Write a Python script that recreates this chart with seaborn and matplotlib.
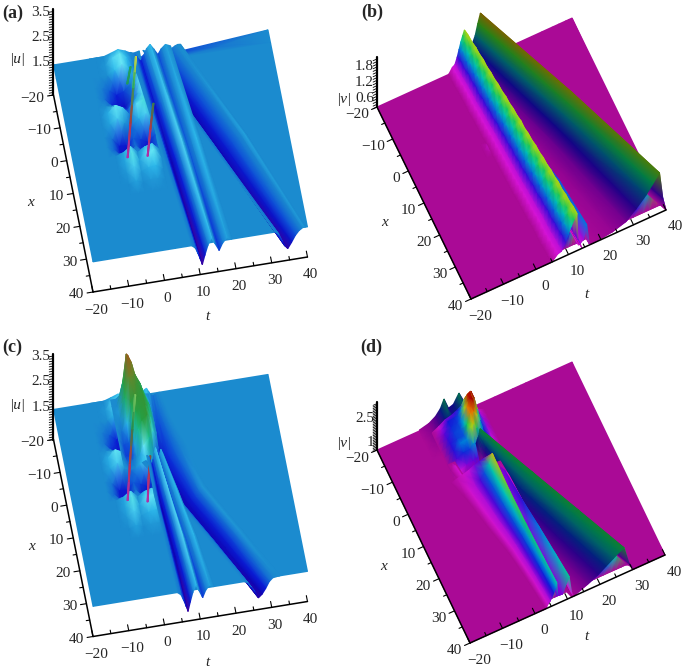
import numpy as np
import seaborn as sns
import matplotlib
matplotlib.use("Agg")
import matplotlib.pyplot as plt

sns.set_theme(style="white")
plt.rcParams["font.family"] = ["Liberation Serif", "DejaVu Serif"]

B = 1.41  # flat level of |u|

TICKS = [-20, -10, 0, 10, 20, 30, 40]

# colour scales, evenly spaced over each z range
U_COLORS = ["#46009a", "#0f05b4", "#0a1ed7", "#0f5ad7", "#1b8acf", "#2db9eb", "#6eebfa", "#14cdaf",
            "#1eaf64", "#23a046", "#329637", "#508c32", "#64872d", "#787d28", "#8c6e1e", "#a05519", "#af3c14"]
V_BRIGHT = ["#aa0a96", "#d714d7", "#6e00d7", "#1414d7", "#0078dc", "#00c3be", "#14c85a", "#aad714",
            "#e6aa00", "#e13c00", "#aa0000"]
V_DARK = ["#aa0a96", "#820091", "#50008c", "#140087", "#00287d", "#005f69", "#007d46", "#288214",
          "#647805", "#825a00", "#783200"]
SPIKE_COLORS = ["#b02cb0", "#c03060", "#a04030", "#208c50", "#20c080", "#e8e040"]

# panel a / c : flat sheet with notches at the back edge
BASE_T = [-20, 1, 3, 4.5, 6, 8, 10, 12, 40]
BASE_X = [-20, -16, 40]
BASE_A = [[B, B, 1.3, 1.15, 1.3, 1.2, 0.8, 1.1, B],
          [B, B, B, B, B, B, B, B, B],
          [B, B, B, B, B, B, B, B, B]]

# breather field around the origin, shared by a and c
BR_T = [-10, -8, -6, -4, -2, 0, 2, 4]
BR_X = [-20, -17, -14, -11, -8, -5, -2, 1, 4, 7, 10, 13, 16, 19, 22]
BR_Z = [[B, B, B, 1.5, 1.6, 1.5, 1.35, B],
        [B, B, 1.45, 1.7, 1.82, 1.6, 1.30, B],
        [B, B, 1.42, 1.6, 1.8, 1.55, 1.35, B],
        [B, 1.36, 1.22, 1.0, 1.1, 1.35, 1.7, 1.55],
        [B, 1.32, 1.05, 0.92, 0.88, 1.2, 1.82, 1.6],
        [B, 1.42, 1.4, 1.2, 1.15, 1.5, 1.7, 1.45],
        [B, 1.55, 1.82, 1.68, 1.35, 1.75, 1.88, 1.5],
        [B, 1.5, 1.68, 1.45, 1.25, 1.55, 1.7, 1.4],
        [B, 1.3, 0.98, 0.95, 1.2, 1.1, 0.95, 1.2],
        [B, 1.26, 0.92, 0.88, 1.3, 0.92, 0.88, 1.2],
        [B, B, 1.5, 1.7, 1.42, 1.6, 1.68, 1.4],
        [B, B, 1.52, 1.84, 1.5, 1.75, 1.82, 1.45],
        [B, B, 1.46, 1.68, 1.45, 1.55, 1.6, B],
        [B, B, B, 1.5, B, 1.46, 1.46, B],
        [B, B, B, B, B, B, B, B]]

# panel a ridges
A_R2_X = [-20, 10, 40]
A_R2_C = [4.5, 7.6, 10.6]
R2_OFF = [-3, -2, -1.2, -0.5, 0, 0.7, 1.5, 2.5, 3.5, 4.7, 5.6, 6.8, 8.2]
A_R2_Z = [[B, 1.35, 1.2, 1.05, 1.0, 1.2, 1.45, 1.6, 1.4, 1.15, 1.35, 1.5, B],
          [B, 1.3, 1.05, 0.85, 0.8, 1.0, 1.3, 1.7, 1.45, 1.2, 1.35, 1.6, B],
          [B, 1.3, 1.05, 0.8, 0.6, 0.95, 1.3, 1.6, 1.35, 1.05, 1.3, 1.5, B]]
A_R3_X = [-20, 10, 40]
A_R3_C = [8.5, 21.5, 34.5]
A_R3_WR = [1, 1, 0.7]
R3_OFF = [-3.5, -2.5, -1.5, -0.8, 0, 1.5, 3, 4.5, 5.5, 6.2, 7]
A_R3_Z = [[B, 1.35, 1.05, 0.9, 0.82, 0.95, 1.15, 1.3, 1.38, 1.42, B],
          [B, 1.3, 1.05, 0.9, 0.82, 0.95, 1.15, 1.3, 1.38, 1.5, B],
          [B, 1.3, 1.0, 0.8, 0.68, 0.9, 1.15, 1.32, 1.38, 1.45, B]]
A_S1_X = [7.9, 3, -2, -6.6]
A_S1_T = [-4.4, -2.7, -1, 0.6]
A_S1_Z = [1.0, 1.7, 2.4, 3.0]
A_S2_X = [8.4, 5, 2]
A_S2_T = [1.1, 2.5, 3.9]
A_S2_Z = [1.0, 1.6, 2.2]
A_G_X = [-11, -6.8]
A_G_T = [-0.1, -1.8]
A_G_Z = [2.05, 1.95]

# panel c
C_R3_X = [-20, -12, -3, 10, 25, 40]
C_R3_C = [6, 5.2, 4.3, 10.9, 18.6, 26.3]
C_R3_WL = [1.2, 1, 1.2, 1, 1, 1]
C_R3_WR = [0.6, 1, 1.6, 1, 1, 1]
C_R3_OFF = [-4, -3, -2, -1, -0.5, 0, 1, 2, 3, 4, 5, 6]
C_R3_Z = [[B, B, B, 1.45, 1.6, 1.65, 1.5, 1.35, 1.3, 1.35, 1.38, B],
          [B, B, 1.4, 1.5, 1.6, 1.55, 1.3, 1.15, 1.15, 1.25, 1.35, B],
          [B, B, 1.3, 1.1, 0.9, 0.72, 0.8, 0.9, 1.05, 1.2, 1.35, B],
          [B, 1.35, 1.2, 1.0, 0.88, 0.8, 0.85, 0.95, 1.1, 1.28, 1.45, B],
          [B, 1.35, 1.2, 1.0, 0.88, 0.8, 0.85, 0.95, 1.1, 1.28, 1.45, B],
          [B, 1.35, 1.15, 0.95, 0.8, 0.68, 0.8, 1.0, 1.25, 1.38, 1.4, B]]
C_FAN_X = [-2, 10, 25, 40]
C_FAN_C = [4.3, 4.8, 5.7, 6.6]
C_FAN_WL = [0.5, 0.7, 0.85, 1]
C_FAN_WR = [0.35, 0.55, 0.75, 0.87]
C_FAN_Z = [[B, 1.35, 1.2, 1.05, 1.0, 1.2, 1.45, 1.65, 1.4, 1.15, 1.35, 1.55, B],
           [B, 1.3, 1.05, 0.85, 0.8, 1.0, 1.3, 1.7, 1.45, 1.2, 1.35, 1.6, B],
           [B, 1.3, 1.05, 0.85, 0.8, 1.0, 1.3, 1.7, 1.45, 1.2, 1.35, 1.6, B],
           [B, 1.3, 1.05, 0.8, 0.6, 0.95, 1.3, 1.6, 1.35, 1.05, 1.3, 1.5, B]]
C_M_T = [-4, -2.5, -1, 0, 1, 2, 3.5, 5, 6.5]
C_M_X = [-20, -18, -16, -14, -11, -8, -5, -2, 1]
C_M_Z = [[B, B, 1.5, 2.1, 2.1, 2.0, 1.6, 1.45, B],
         [B, B, 2.3, 3.4, 3.0, 2.5, 2.2, 1.6, B],
         [B, 1.45, 2.5, 3.6, 3.3, 2.8, 2.4, 1.7, B],
         [B, 1.4, 2.2, 3.0, 3.0, 2.7, 2.5, 2.0, B],
         [B, 1.3, 1.6, 2.4, 2.7, 2.6, 2.6, 2.2, B],
         [B, 1.15, 1.2, 2.1, 2.4, 2.5, 2.6, 2.1, B],
         [B, 1.1, 1.1, 1.5, 2.1, 2.4, 2.6, 1.9, 1.2],
         [B, 1.25, 1.3, 1.4, 1.5, 1.8, 2.1, 1.35, 1.0],
         [1.45, 1.35, 1.4, 1.5, 1.6, 1.65, 1.45, B, B]]
C_S1_X = [7.4, 1, -4.5, -10]
C_S1_T = [-4.3, -2.5, -0.8, 1]
C_S1_Z = [1.0, 1.6, 2.2, 2.8]
C_S2_X = [8.4, 5, 2]
C_S2_T = [1.1, 2, 3]
C_S2_Z = [0.95, 1.4, 1.9]

# panel b
V0 = 0.3
B_EDGE_T = [-20, 4.8, 6.6, 7.8, 9, 9.9, 10.8, 11.7, 12.6, 12.9, 13.6, 15.6, 16.6, 17.3, 23.5, 27.6, 30.8, 33.9, 35.9, 38, 39, 40]
B_EDGE_Z = [V0, V0, 0.5, 0.55, 0.75, 0.95, 1.15, 1.4, 1.67, 0.6, 0.48, 1.1, 0.35, V0, 0.4, 0.55, 0.85, 1.2, 1.5, 1.8, 0.8, V0]
B_R1_X = [-20, -18, -16, -14, -12, -10, -8, -6, -4, -2, 0, 2, 4, 6, 8, 10, 12, 14, 16, 18, 20, 22, 24, 26, 28, 30, 32, 34, 36, 38, 40]
B_R1_C = [6.9, 7.1, 7.3, 7.5, 7.7, 7.9, 8.0, 8.2, 8.4, 8.6, 8.8, 9.0, 9.2, 9.4, 9.6, 9.8, 9.9, 10.1, 10.3, 10.5, 10.7, 10.9, 11.1, 11.3, 11.5, 11.7, 11.8, 12.0, 12.2, 12.4, 12.6]
B_R1_WL = [3.7, 3.8, 3.9, 3.9, 4.0, 4.1, 4.2, 4.2, 4.3, 4.4, 4.5, 4.5, 4.6, 4.7, 4.8, 4.9, 4.9, 5.0, 5.1, 5.2, 5.2, 5.3, 5.4, 5.5, 5.5, 5.6, 5.7, 5.8, 5.8, 5.9, 6.0]
B_R1_OFF = [-1.3, -1, -0.8, -0.6, -0.45, -0.3, -0.15, 0, 0.3, 1, 1.6]
B_R1_HI = [V0, 0.5, 0.55, 0.85, 1.2, 1.5, 1.66, 1.72, 0.7, 0.5, V0]
B_R1_LO = [V0, 0.5, 0.55, 0.8, 1.05, 1.3, 1.5, 1.69, 0.7, 0.5, V0]
B_BUMP_X = [8, 25, 40]
B_BUMP_C = [12.5, 14.3, 15.6]
B_BUMP_OFF = [-2.5, -1, 0, 0.8, 1.4]
B_BUMP_Z = [[0.5, 0.5, 0.7, 0.4, V0],
            [0.5, 0.6, 1.05, 0.4, V0],
            [0.48, 0.6, 1.1, 0.35, V0]]
B_R2_X = [-20, 10, 40]
B_R2_C = [11.8, 25.3, 38]
B_R2_WL = [8, 14, 20.7]
R_OFF = [-1, -0.7, -0.5, -0.35, -0.2, -0.1, 0, 1, 2]
B_R2_Z = [[V0, 0.42, 0.62, 0.95, 1.3, 1.7, 2.05, 0.9, V0],
          [V0, 0.42, 0.6, 0.92, 1.28, 1.62, 1.95, 0.85, V0],
          [V0, 0.4, 0.55, 0.85, 1.2, 1.5, 1.8, 0.8, V0]]
B_SPOT_T = [1.5, 3.4, 5.3]
B_SPOT_X = [1.8, 3.8, 5.8]
B_SPOT_Z = [[V0, V0, V0], [V0, 0.52, V0], [V0, V0, V0]]

# panel d
W0 = 0.5
D_EDGE_T = [-20, 3.3, 3.9, 4.6, 5.2, 5.7, 6.3, 6.7, 7, 8.4, 10.5, 11.3, 12, 16.1, 19.4, 21.8, 24.2, 25.8, 27.4, 28.9, 30.4, 40]
D_EDGE_Z = [W0, W0, 0.72, 0.85, 1.05, 1.25, 1.55, 1.8, 1.0, 0.95, 1.85, 0.75, W0, 0.85, 1.15, 1.45, 1.75, 1.95, 2.1, 1.0, W0, W0]
D_R2_X = [-7, -4, 10, 25, 40]
D_R2_C = [5.5, 6.9, 13.4, 20.4, 27.4]
D_R2_WL = [1.2, 2.5, 11, 14, 16.1]
D_R2_WR = [1, 1, 1.2, 1.4, 1.5]
D_R2_Z = [[1.3, 1.5, 1.6, 1.7, 1.85, 2.0, 2.1, 1.0, W0],
          [W0, 0.85, 1.15, 1.45, 1.75, 1.95, 2.1, 1.0, W0],
          [W0, 0.85, 1.15, 1.45, 1.75, 1.95, 2.1, 1.0, W0],
          [W0, 0.85, 1.15, 1.45, 1.75, 1.95, 2.1, 1.0, W0],
          [W0, 0.85, 1.15, 1.45, 1.75, 1.95, 2.1, 1.0, W0]]
D_R1_X = [-3, 2, 12, 22, 32, 40]
D_R1_C = [4.5, 5, 5.4, 5.8, 6.3, 6.7]
D_R1_WL = [8, 7, 5.6, 4, 3.2, 2.8]
D_R1_OFF = [-1.2, -1, -0.75, -0.55, -0.35, -0.15, 0, 0.3, 1.7, 3.8, 4.6, 5.3]
D_R1_Z = [[W0, 0.6, 0.7, 0.8, 0.95, 1.05, 1.1, 0.7, W0, W0, W0, W0],
          [W0, 0.72, 0.85, 1.1, 1.4, 1.8, 2.4, 1.1, 0.9, 1.0, 0.75, W0],
          [W0, 0.72, 0.85, 1.1, 1.4, 1.75, 2.1, 1.1, 0.9, 1.2, 0.8, W0],
          [W0, 0.72, 0.85, 1.1, 1.35, 1.6, 1.95, 1.0, 0.95, 1.5, 0.8, W0],
          [W0, 0.72, 0.85, 1.05, 1.3, 1.55, 1.85, 1.0, 0.95, 1.7, 0.8, W0],
          [W0, 0.72, 0.85, 1.05, 1.25, 1.5, 1.8, 1.0, 0.95, 1.85, 0.75, W0]]
D_AB_T = [-7, -4, -2, -0.5, 0.6, 2, 3.5, 5.2, 7]
D_AB_X = [-20, -17, -14, -11, -8]
D_AB_Z = [[0.55, 0.7, 0.95, 1.3, 1.8, 1.1, 1.2, 1.75, 1.0],
          [W0, 0.68, 0.95, 1.25, 1.45, 1.25, 1.3, 1.5, 1.1],
          [W0, 0.6, 0.9, 1.15, 1.25, 1.2, 1.2, 1.25, 1.1],
          [W0, W0, 0.8, 1.05, 1.15, 1.15, 1.15, 1.15, 1.0],
          [W0, W0, 0.6, 0.8, 0.95, 1.0, 1.0, 0.95, 0.8]]
D_C_T = [-4, -2, 0, 2, 3, 4, 5, 6, 7, 8, 10, 12]
D_C_X = [-18, -16, -14, -12, -10, -8, -6, -4, -2]
D_C_Z = [[W0, 0.7, 0.95, 1.05, 1.15, 1.25, 1.35, 1.35, 1.25, 1.05, 0.7, W0],
         [W0, 0.9, 1.25, 1.3, 1.35, 1.6, 2.2, 2.4, 1.85, 1.35, 0.85, W0],
         [W0, 1.05, 1.3, 1.35, 1.5, 2.2, 2.9, 3.0, 2.3, 1.4, 0.9, W0],
         [W0, 1.15, 1.35, 1.4, 1.7, 2.6, 3.0, 3.0, 2.2, 1.4, 0.9, W0],
         [W0, 1.2, 1.35, 1.4, 2.0, 2.6, 2.6, 2.3, 1.8, 1.3, 0.85, W0],
         [W0, 1.2, 1.5, 1.55, 2.2, 2.3, 2.0, 1.6, 1.45, 1.25, 0.8, W0],
         [W0, 1.1, 1.3, 1.35, 1.6, 1.5, 1.4, 1.35, 1.25, 1.1, 0.7, W0],
         [W0, 0.75, 0.95, 1.0, 1.1, 1.0, 1.0, 1.0, 0.95, 0.8, 0.6, W0],
         [W0, W0, W0, W0, W0, W0, W0, W0, W0, W0, W0, W0]]
D_FOOT_X = [-8, -6, 1.5, 7]
D_FOOT_C = [-2.8, -2.6, -1.6, -1.2]
D_FOOT_OFF = [-1, 0, 1]
D_FOOT_Z = [[W0, W0, W0], [W0, 0.72, W0], [W0, 0.75, W0], [W0, 0.7, W0]]

# layout of each panel in pixels: corner t=x=-20, vectors along t and x, pixels per z unit
PANELS = {
    "a": dict(o=(53.5, 95), tv=(214.5, -35), xv=(39.5, 197), zs=25.3, z0=0.22, ztop=3.6, zl=[1.5, 2.5, 3.5], name="|u|",
              name_xy=(17, 60), x_xy=(31, 203), t_xy=(207, 317), tag_xy=(2, 13), xoff=(-9, 3), toff=(3, 18)),
    "b": dict(o=(377, 107), tv=(195, -89), xv=(94, 192), zs=26.7, z0=0.3, ztop=2.17, zl=[0.6, 1.2, 1.8], name="|v|",
              name_xy=(344, 99), x_xy=(385, 223), t_xy=(586, 295), tag_xy=(361, 12), xoff=(-8, 8), toff=(9, 17)),
    "c": dict(o=(53.5, 439.5), tv=(214.5, -35), xv=(39.5, 197), zs=25.3, z0=0.22, ztop=3.6, zl=[1.5, 2.5, 3.5], name="|u|",
              name_xy=(17, 405), x_xy=(32, 547), t_xy=(207, 662), tag_xy=(2, 347), xoff=(-9, 3), toff=(3, 18)),
    "d": dict(o=(377, 450), tv=(195, -88), xv=(93, 193), zs=16, z0=0.5, ztop=3.5, zl=[1, 2.5], name="|v|",
              name_xy=(344, 444), x_xy=(384, 567), t_xy=(586, 637), tag_xy=(360, 347), xoff=(-8, 8), toff=(9, 17)),
}

u_cmap = sns.blend_palette(U_COLORS, as_cmap=True)
bright_cmap = sns.blend_palette(V_BRIGHT, as_cmap=True)
dark_cmap = sns.blend_palette(V_DARK, as_cmap=True)
spike_cmap = sns.blend_palette(SPIKE_COLORS, as_cmap=True)

fig = plt.figure(figsize=(6.85, 6.68), dpi=100)
ax = fig.add_axes([0, 0, 1, 1])
ax.set_xlim(0, 685)
ax.set_ylim(668, 0)
ax.axis("off")


def project(p, t, x, z):
    t = np.asarray(t, float)
    x = np.asarray(x, float)
    u = (t + 20) / 60
    v = (x + 20) / 60
    px = p["o"][0] + u * p["tv"][0] + v * p["xv"][0]
    py = p["o"][1] + u * p["tv"][1] + v * p["xv"][1] - p["zs"] * (np.asarray(z, float) - p["z0"])
    return px, py


def sheet(p, t, x, z, cmap, lims):
    px, py = project(p, t, x, z)
    ax.pcolormesh(px, py, np.asarray(z, float), shading="gouraud", cmap=cmap, vmin=lims[0], vmax=lims[1])


def grid(p, ts, xs, z, cmap, lims):
    t2, x2 = np.meshgrid(ts, xs)
    sheet(p, t2, x2, z, cmap, lims)


def ground(p, edge_t, edge_z, flat, cmap, lims):
    # flat sheet whose near edge follows the wave fronts, so the white shows under them
    rows = [[flat] * len(edge_t), [flat] * len(edge_t), edge_z]
    grid(p, edge_t, [-20, 38, 40], rows, cmap, lims)


def ridge(p, xs, centres, offs, z, cmap, lims, wl=None, wr=None):
    # one strip along a travelling wave, painted from its far side to its near side
    xs = np.asarray(xs, float)
    offs = np.asarray(offs, float)
    wl = np.ones(len(xs)) if wl is None else np.asarray(wl, float)
    wr = np.ones(len(xs)) if wr is None else np.asarray(wr, float)
    scale = np.where(offs[None, :] < 0, wl[:, None], wr[:, None])
    t = np.asarray(centres, float)[:, None] + offs[None, :] * scale
    x = np.repeat(xs[:, None], len(offs), axis=1)
    zz = np.asarray(z, float)
    sheet(p, t.T[::-1], x.T[::-1], zz.T[::-1], cmap, lims)


def spike(p, xs, ts, zs, half=0.16, vmin=None):
    zz = np.tile(np.asarray(zs, float)[:, None], (1, 3))
    ridge(p, xs, ts, [-half, 0, half], zz, spike_cmap, (min(zs) if vmin is None else vmin, 3.0))


def frame(p, key):
    corner = [(-20, -20), (-20, 40), (40, 40)]
    for (t0, x0), (t1, x1) in zip(corner[:-1], corner[1:]):
        a, b = project(p, [t0, t1], [x0, x1], [p["z0"], p["z0"]])
        ax.plot(a, b, color="black", lw=1.1, solid_capstyle="round")
    a, b = project(p, [-20, -20], [-20, -20], [p["z0"], p["ztop"]])
    ax.plot(a, b, color="black", lw=1.6)
    for v in np.arange(-20, 41, 5):
        ln = 6 if v % 10 == 0 else 3.5
        # ticks on the x axis point back along t, those on the t axis back along x
        a, b = project(p, [-20, -20 - ln * 60 / np.hypot(*p["tv"])], [v, v], [p["z0"], p["z0"]])
        ax.plot(a, b, color="black", lw=0.8)
        a, b = project(p, [v, v], [40, 40 - ln * 60 / np.hypot(*p["xv"])], [p["z0"], p["z0"]])
        ax.plot(a, b, color="black", lw=0.8)
    for zv in np.arange(p["z0"], p["ztop"], 0.1):
        a, b = project(p, [-20, -21.2], [-20, -20], [zv, zv])
        ax.plot(a, b, color="black", lw=0.6)
    for v in TICKS:
        a, b = project(p, -20, v, p["z0"])
        ax.text(a + p["xoff"][0], b + p["xoff"][1], str(v).replace("-", "\u2212"), ha="right", va="center", fontsize=11)
        a, b = project(p, v, 40, p["z0"])
        ax.text(a + p["toff"][0], b + p["toff"][1], str(v).replace("-", "\u2212"), ha="center", va="center", fontsize=11)
    for zv in p["zl"]:
        a, b = project(p, -20, -20, zv)
        ax.text(a - 3, b, str(zv), ha="right", va="center", fontsize=11)
    ax.text(*p["name_xy"], p["name"], ha="center", va="center", fontsize=11, style="italic")
    ax.text(*p["x_xy"], "x", ha="center", va="center", fontsize=11, style="italic")
    ax.text(*p["t_xy"], "t", ha="center", va="center", fontsize=11, style="italic")
    ax.text(*p["tag_xy"], f"({key})", ha="left", va="center", fontsize=13, fontweight="bold")


U_LIM = (0.6, 3.8)
B_LIM = (0.3, 2.3)
D_LIM = (0.5, 3.0)
AB_LIM = (0.5, 2.6)

p = PANELS["a"]
frame(p, "a")
grid(p, BASE_T, BASE_X, BASE_A, u_cmap, U_LIM)
grid(p, BR_T, BR_X, BR_Z, u_cmap, U_LIM)
ridge(p, A_R3_X, A_R3_C, R3_OFF, A_R3_Z, u_cmap, U_LIM, None, A_R3_WR)
ridge(p, A_R2_X, A_R2_C, R2_OFF, A_R2_Z, u_cmap, U_LIM)
spike(p, A_G_X, A_G_T, A_G_Z, vmin=0.0)
spike(p, A_S1_X, A_S1_T, A_S1_Z)
spike(p, A_S2_X, A_S2_T, A_S2_Z)

p = PANELS["c"]
frame(p, "c")
grid(p, [-20, 40], [-20, 40], [[B, B], [B, B]], u_cmap, U_LIM)
grid(p, BR_T, BR_X, BR_Z, u_cmap, U_LIM)
ridge(p, C_R3_X, C_R3_C, C_R3_OFF, C_R3_Z, u_cmap, U_LIM, C_R3_WL, C_R3_WR)
grid(p, C_M_T, C_M_X, C_M_Z, u_cmap, U_LIM)
spike(p, C_S1_X, C_S1_T, C_S1_Z)
spike(p, C_S2_X, C_S2_T, C_S2_Z)
ridge(p, C_FAN_X, C_FAN_C, R2_OFF, C_FAN_Z, u_cmap, U_LIM, C_FAN_WL, C_FAN_WR)

p = PANELS["b"]
frame(p, "b")
ground(p, B_EDGE_T, B_EDGE_Z, V0, bright_cmap, B_LIM)
grid(p, B_SPOT_T, B_SPOT_X, B_SPOT_Z, bright_cmap, B_LIM)
ridge(p, B_R2_X, B_R2_C, R_OFF, B_R2_Z, dark_cmap, B_LIM, B_R2_WL)
ridge(p, B_BUMP_X, B_BUMP_C, B_BUMP_OFF, B_BUMP_Z, bright_cmap, B_LIM)
# the facets of the steep front alternate in the picture, which gives its stripes
r1_rows = [B_R1_HI if i % 2 else B_R1_LO for i in range(len(B_R1_X))]
ridge(p, B_R1_X, B_R1_C, B_R1_OFF, r1_rows, bright_cmap, B_LIM, B_R1_WL)

p = PANELS["d"]
frame(p, "d")
ground(p, D_EDGE_T, D_EDGE_Z, W0, bright_cmap, D_LIM)
grid(p, D_AB_T, D_AB_X, D_AB_Z, dark_cmap, AB_LIM)
grid(p, D_C_T, D_C_X, D_C_Z, bright_cmap, D_LIM)
ridge(p, D_R2_X, D_R2_C, R_OFF, D_R2_Z, dark_cmap, D_LIM, D_R2_WL, D_R2_WR)
ridge(p, D_FOOT_X, D_FOOT_C, D_FOOT_OFF, D_FOOT_Z, bright_cmap, D_LIM)
ridge(p, D_R1_X, D_R1_C, D_R1_OFF, D_R1_Z, bright_cmap, D_LIM, D_R1_WL)

fig.savefig("out.png", dpi=100)
